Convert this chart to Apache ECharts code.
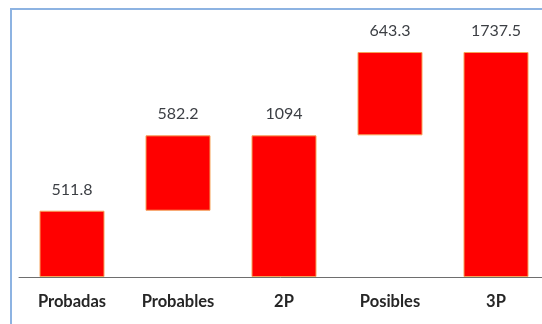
<!DOCTYPE html>
<html><head><meta charset="utf-8">
<script src="https://cdn.jsdelivr.net/npm/echarts@6/dist/echarts.min.js"></script>
<style>html,body{margin:0;padding:0;background:#fff;}#c{width:542px;height:324px;}</style>
</head><body><div id="c"></div>
<script>
const categories = ['Probadas', 'Probables', '2P', 'Posibles', '3P'];
const values = [511.8, 582.2, 1094, 643.3, 1737.5];
const bases = [0, 511.8, 0, 1094, 0];

const chart = echarts.init(document.getElementById('c'));
chart.setOption({
  animation: false,
  backgroundColor: '#fff',
  grid: { left: 19, width: 530, top: 52, bottom: 47, outerBoundsMode: 'none', containLabel: false },
  xAxis: {
    type: 'category', data: categories,
    axisLine: { lineStyle: { color: '#6e6e6e', width: 1 } },
    axisTick: { length: 3, lineStyle: { color: '#6e6e6e' } },
    axisLabel: { color: '#262626', fontFamily: 'Lato', fontWeight: 'bold', fontSize: 16.5, margin: 16 }
  },
  yAxis: { type: 'value', min: 0, max: 1737.5, show: false, splitLine: { show: false } },
  series: [
    { type: 'bar', stack: 'w', data: bases, barWidth: 65, itemStyle: { color: 'transparent' }, silent: true },
    { type: 'bar', stack: 'w', data: values, barWidth: 65,
      itemStyle: { color: '#ff0000', borderColor: '#f5a35a', borderWidth: 1 },
      label: { show: true, position: 'top', distance: 13, color: '#3c3f44', fontFamily: 'Lato', fontSize: 16 } }
  ],
  graphic: [
    { type: 'rect', shape: { x: 11, y: 9, width: 700, height: 500 }, style: { fill: 'none', stroke: '#8db3e2', lineWidth: 2 }, z: 10 }
  ]
});
</script></body></html>
